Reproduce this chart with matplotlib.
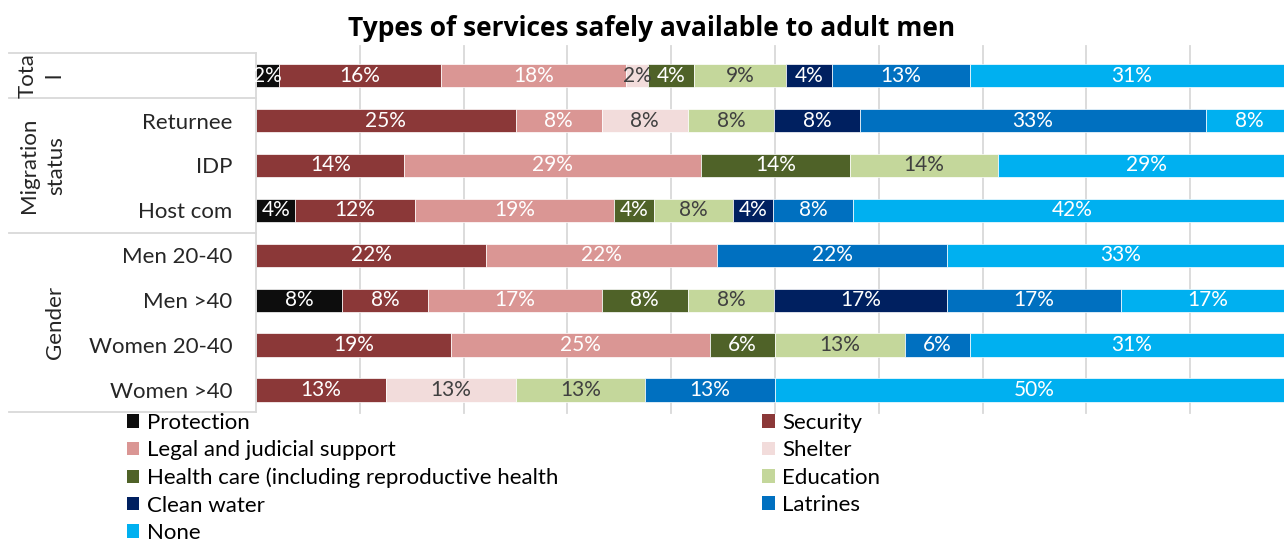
import matplotlib
matplotlib.use("Agg")
import matplotlib.pyplot as plt
from matplotlib.patches import Patch
from matplotlib.lines import Line2D
from matplotlib.transforms import blended_transform_factory

# ---- data (percent of respondents) ----
categories = ["", "Returnee", "IDP", "Host com", "Men 20-40", "Men >40",
              "Women 20-40", "Women >40"]
group_names = ["Tota\nl", "Migration\nstatus", "Gender"]
group_rows = [(0, 0), (1, 3), (4, 7)]

services = ["Protection", "Security", "Legal and judicial support", "Shelter",
            "Health care (including reproductive health", "Education",
            "Clean water", "Latrines", "None"]

protection = [2.2, 0, 0, 3.8, 0, 8.3, 0, 0]
security = [15.6, 25.0, 14.3, 11.5, 22.2, 8.3, 18.75, 12.5]
legal = [17.8, 8.3, 28.6, 19.2, 22.2, 16.7, 25.0, 0]
shelter = [2.2, 8.3, 0, 0, 0, 0, 0, 12.5]
health = [4.4, 0, 14.3, 3.8, 0, 8.3, 6.25, 0]
education = [8.9, 8.3, 14.3, 7.7, 0, 8.3, 12.5, 12.5]
clean_water = [4.4, 8.3, 0, 3.8, 0, 16.7, 0, 0]
latrines = [13.3, 33.3, 0, 7.7, 22.2, 16.7, 6.25, 12.5]
none = [31.1, 8.3, 28.6, 42.3, 33.3, 16.7, 31.25, 50.0]

series = [protection, security, legal, shelter, health, education,
          clean_water, latrines, none]
colors = ["#0D0D0D", "#8B3838", "#DA9694", "#F2DCDB", "#4F6228", "#C4D79B",
          "#002060", "#0070C0", "#00B0F0"]
label_colors = ["white", "white", "white", "#404040", "white", "#404040",
                "white", "white", "white"]

title = "Types of services safely available to adult men"

# ---- figure ----
W, H = 1284, 542
fig = plt.figure(figsize=(W / 100, H / 100), dpi=100)
FONT = "Lato"

ax = fig.add_axes([256 / W, 1 - 412.5 / H, 1038 / W, (412.5 - 53.2) / H])

y = list(range(len(categories)))
left = [0.0] * len(categories)
for vals, col, lcol in zip(series, colors, label_colors):
    bars = ax.barh(y, vals, left=left, height=0.52, color=col,
                   edgecolor="white", linewidth=0.5, zorder=2)
    labels = [f"{int(v + 0.5)}%" if v > 0 else "" for v in vals]
    texts = ax.bar_label(bars, labels=labels, label_type="center",
                         color=lcol, fontsize=15, family=FONT)
    for t in texts:
        t.set_clip_on(True)
    left = [a + b for a, b in zip(left, vals)]

ax.set_xlim(0, 100)
ax.set_ylim(len(categories) - 0.5, -0.5)

grid_ticks = list(range(10, 101, 10))
for gx in grid_ticks:
    ax.axvline(gx, ymin=0, ymax=1.02, color="#D9D9D9", lw=1.3,
               zorder=0, clip_on=False)
ax.set_xticks([])

ax.set_yticks(y)
ax.set_yticklabels(categories, fontsize=16, family=FONT, color="#262626")
ax.tick_params(axis="y", length=0, pad=17)

for side in ["top", "right", "bottom"]:
    ax.spines[side].set_visible(False)
ax.spines["left"].set_color("#D9D9D9")
ax.spines["left"].set_linewidth(1.3)

# group separators of the two-level category axis
tr = blended_transform_factory(fig.transFigure, ax.transData)
for yb in [-0.5, 0.5, 3.5, 7.5]:
    fig.add_artist(Line2D([9 / W, 256 / W], [yb, yb], transform=tr,
                          color="#D9D9D9", lw=1.3))

group_x = [41, 43, 55]
for name, (r0, r1), gx in zip(group_names, group_rows, group_x):
    fig.text(gx / W, (r0 + r1) / 2, name, transform=tr, rotation=90,
             ha="center", va="center", multialignment="center",
             fontsize=16, family=FONT, color="#262626", linespacing=1.45)

fig.text(652 / W, 1 - 28 / H, title, ha="center", va="center",
         fontsize=19, fontweight="bold", family="Open Sans", color="black")

handles = [Patch(facecolor=c, edgecolor="none") for c in colors]
order = [0, 2, 4, 6, 8, 1, 3, 5, 7]
fig.legend([handles[i] for i in order], [services[i] for i in order],
           loc="upper left", bbox_to_anchor=(127 / W, 1 - 413 / H),
           ncol=2, frameon=False, prop={"family": FONT, "size": 16},
           handlelength=0.55, handleheight=0.55, handletextpad=0.33,
           columnspacing=9.2, labelspacing=0.33, borderpad=0,
           borderaxespad=0)

fig.savefig("out.png", dpi=100)
